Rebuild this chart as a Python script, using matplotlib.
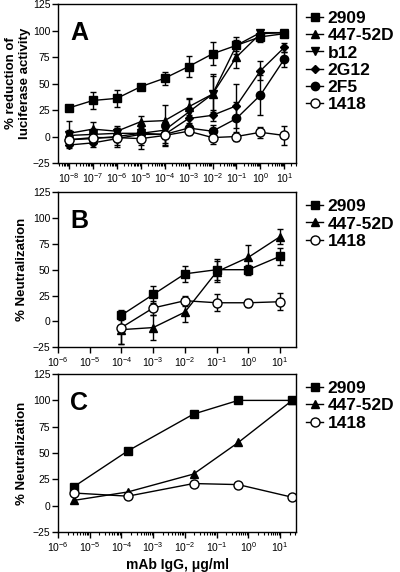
import numpy as np
import matplotlib.pyplot as plt
from matplotlib.ticker import LogLocator, NullLocator, NullFormatter

plt.rcParams['font.family'] = ['Liberation Sans', 'DejaVu Sans']
plt.rcParams['mathtext.default'] = 'regular'

# panel A: luciferase reduction
conc_a = [1e-8, 1e-7, 1e-6, 1e-5, 1e-4, 1e-3, 1e-2, 1e-1, 1e0, 1e1]
a_2909 = [27, 34, 36, 47, 55, 66, 78, 86, 94, 97]
a_2909_err = [3, 8, 8, 2, 6, 10, 11, 8, 5, 2]
a_447 = [3, 7, 5, 14, 15, 28, 40, 75, 97, 98]
a_447_err = [12, 7, 5, 5, 15, 8, 17, 10, 3, 2]
a_b12 = [1, 2, 3, 3, 6, 23, 40, 86, 98, 98]
a_b12_err = [5, 5, 5, 4, 8, 12, 19, 5, 2, 2]
a_2g12 = [-8, -6, -2, 2, 2, 17, 20, 29, 62, 84]
a_2g12_err = [3, 4, 8, 10, 8, 10, 5, 21, 9, 4]
a_2f5 = [-3, -2, 0, 3, 2, 8, 5, 17, 39, 73]
a_2f5_err = [5, 5, 8, 8, 10, 5, 6, 16, 19, 7]
a_1418 = [-3, -1, -1, -2, 1, 5, -1, 0, 4, 1]
a_1418_err = [5, 4, 4, 10, 10, 4, 6, 4, 5, 9]

# panel B: neutralization
conc_b = [1e-4, 1e-3, 1e-2, 1e-1, 1e0, 1e1]
b_2909 = [6, 26, 46, 50, 50, 63]
b_2909_err = [5, 8, 8, 10, 5, 8]
b_447 = [-8, -6, 9, 48, 62, 82]
b_447_err = [14, 12, 10, 10, 12, 7]
b_1418 = [-6, 13, 20, 18, 18, 19]
b_1418_err = [16, 7, 5, 8, 4, 8]

# panel C: neutralization, single values
conc_c = [10**-5.5, 10**-3.8, 10**-1.73, 10**-0.32, 10**1.38]
c_2909 = [18, 52, 87, 100, 100]
c_447 = [5, 13, 30, 60, 100]
c_1418 = [12, 9, 21, 20, 8]

fig = plt.figure(figsize=(4, 5.72), dpi=100)
axA = fig.add_axes([0.145, 0.715, 0.595, 0.278])
axB = fig.add_axes([0.145, 0.393, 0.595, 0.271])
axC = fig.add_axes([0.145, 0.070, 0.595, 0.276])


def series(ax, x, y, err, marker, label, ms=6, fill='black'):
    if err is not None:
        ax.errorbar(x, y, yerr=err, fmt='none', ecolor='black', capsize=2.5,
                    elinewidth=1, capthick=1)
    ax.plot(x, y, marker=marker, color='black', lw=1, ms=ms,
            mfc=fill, mec='black', label=label)


series(axA, conc_a, a_2909, a_2909_err, 's', '2909')
series(axA, conc_a, a_447, a_447_err, '^', '447-52D')
series(axA, conc_a, a_b12, a_b12_err, 'v', 'b12')
series(axA, conc_a, a_2g12, a_2g12_err, 'D', '2G12', ms=4)
series(axA, conc_a, a_2f5, a_2f5_err, 'o', '2F5', ms=6)
series(axA, conc_a, a_1418, a_1418_err, 'o', '1418', ms=6.5, fill='white')

series(axB, conc_b, b_2909, b_2909_err, 's', '2909')
series(axB, conc_b, b_447, b_447_err, '^', '447-52D')
series(axB, conc_b, b_1418, b_1418_err, 'o', '1418', ms=6.5, fill='white')

series(axC, conc_c, c_2909, None, 's', '2909')
series(axC, conc_c, c_447, None, '^', '447-52D')
series(axC, conc_c, c_1418, None, 'o', '1418', ms=6.5, fill='white')

for ax, lo, hi, minor, letter in [(axA, 10**-8.46, 10**1.49, True, 'A'),
                                  (axB, 1e-6, 10**1.5, False, 'B'),
                                  (axC, 1e-6, 10**1.5, True, 'C')]:
    ax.set_xscale('log')
    ax.set_xlim(lo, hi)
    ax.set_ylim(-25, 125)
    ax.set_yticks([-25, 0, 25, 50, 75, 100, 125])
    ax.xaxis.set_major_locator(LogLocator(base=10, numticks=20))
    if minor:
        ax.xaxis.set_minor_locator(LogLocator(base=10, subs=np.arange(2, 10), numticks=20))
    else:
        ax.xaxis.set_minor_locator(NullLocator())
    ax.xaxis.set_minor_formatter(NullFormatter())
    ax.tick_params(axis='y', which='major', labelsize=7.5, length=4, width=1, pad=1.5)
    ax.tick_params(axis='x', which='major', labelsize=7.5, length=4, width=1, pad=2)
    ax.tick_params(axis='x', which='minor', length=2.5, width=0.8)
    for s in ax.spines.values():
        s.set_linewidth(1)
    ax.text(0.05, 0.89, letter, transform=ax.transAxes, fontsize=18,
            fontweight='bold', va='top', ha='left')
    ax.legend(loc='upper left', bbox_to_anchor=(1.013, 1.0), frameon=False,
              handlelength=1.0, handletextpad=0.25, labelspacing=0.12,
              borderaxespad=0, prop={'size': 12.5, 'weight': 'bold'})

axA.set_ylabel('% reduction of\nluciferase activity', fontsize=9.5,
               fontweight='bold', linespacing=1.15)
axA.yaxis.set_label_coords(-0.115, 0.5)
axB.set_ylabel('% Neutralization', fontsize=9.5, fontweight='bold')
axB.yaxis.set_label_coords(-0.125, 0.5)
axC.set_ylabel('% Neutralization', fontsize=9.5, fontweight='bold')
axC.yaxis.set_label_coords(-0.125, 0.5)
axC.set_xlabel('mAb IgG, \u03bcg/ml', fontsize=10, fontweight='bold', labelpad=3)

fig.savefig('out.png', dpi=100)
